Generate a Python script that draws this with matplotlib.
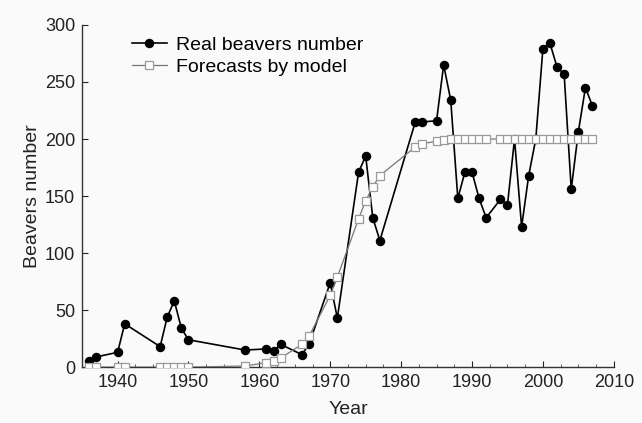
import numpy as np
import matplotlib
matplotlib.use("Agg")
import matplotlib.pyplot as plt
from matplotlib.ticker import MultipleLocator

plt.rcParams["font.family"] = ["Liberation Sans", "DejaVu Sans"]

# observed beaver counts (years with surveys only)
years = [1936, 1937, 1940, 1941, 1946, 1947, 1948, 1949, 1950, 1958,
         1961, 1962, 1963, 1966, 1967, 1970, 1971, 1974, 1975, 1976,
         1977, 1982, 1983, 1985, 1986, 1987, 1988, 1989, 1990, 1991,
         1992, 1994, 1995, 1996, 1997, 1998, 1999, 2000, 2001, 2002,
         2003, 2004, 2005, 2006, 2007]
real = [5, 9, 13, 38, 18, 44, 58, 34, 24, 15,
        16, 14, 20, 11, 20, 74, 43, 171, 185, 131,
        111, 215, 215, 216, 265, 234, 148, 171, 171, 148,
        131, 147, 142, 200, 123, 168, 200, 279, 284, 263,
        257, 156, 206, 245, 229]

# model forecast at the same years
forecast = [0, 0, 0, 0, 0, 0, 0, 0, 0, 1,
            4, 5, 8, 20, 27, 63, 79, 130, 146, 158,
            168, 193, 196, 198, 199, 200, 200, 200, 200, 200,
            200, 200, 200, 200, 200, 200, 200, 200, 200, 200,
            200, 200, 200, 200, 200]

bg = "#fafafa"
fig = plt.figure(figsize=(6.42, 4.23), dpi=100, facecolor=bg)
ax = fig.add_axes([0.128, 0.132, 0.828, 0.809], facecolor=bg)

ax.plot(years, real, "-o", color="black", lw=1.2, ms=5.8,
        label="Real beavers number", zorder=2)
ax.plot(years, forecast, "-s", color="#777777", lw=0.9, ms=5.5,
        mfc="white", mec="#9a9a9a", mew=0.9,
        label="Forecasts by model", zorder=3)

ax.set_xlim(1935, 2010)
ax.set_ylim(0, 300)
ax.xaxis.set_major_locator(MultipleLocator(10))
ax.xaxis.set_minor_locator(MultipleLocator(2.5))
ax.yaxis.set_major_locator(MultipleLocator(50))

for s in ["top", "right"]:
    ax.spines[s].set_visible(False)
for s in ["left", "bottom"]:
    ax.spines[s].set_color("#333333")
    ax.spines[s].set_linewidth(1.0)

ax.tick_params(axis="both", which="major", direction="in", length=4,
               labelsize=13, colors="#222222", pad=5)
ax.tick_params(axis="x", which="minor", direction="in", length=2.5,
               colors="#444444")

ax.set_xlabel("Year", fontsize=14, color="#222222", labelpad=7)
ax.set_ylabel("Beavers number", fontsize=14, color="#222222", labelpad=3)

ax.legend(loc="upper left", bbox_to_anchor=(0.071, 1.0), frameon=False,
          fontsize=14, handlelength=1.8, handletextpad=0.5,
          labelspacing=0.2, borderaxespad=0.2)

fig.savefig("out.png", dpi=100, facecolor=bg)
